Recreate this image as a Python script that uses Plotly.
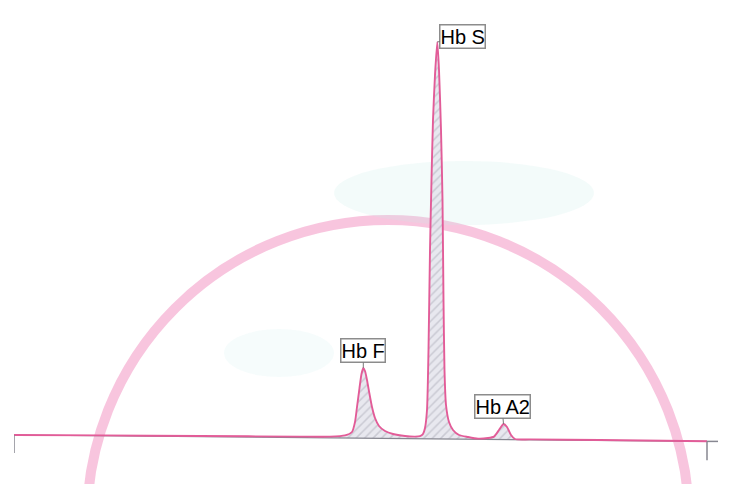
import plotly.graph_objects as go

# Retention time (min) and detector signal (relative units)
time_min = [0.00, 0.86, 1.86, 2.86, 3.16, 3.31, 3.38, 3.41, 3.43, 3.455, 3.475, 3.493,
            3.51, 3.53, 3.555, 3.58, 3.61, 3.65, 3.71, 3.79, 3.91, 4.01, 4.06, 4.09,
            4.11, 4.13, 4.145, 4.16, 4.175, 4.19, 4.21, 4.233, 4.25, 4.27, 4.285, 4.295,
            4.305, 4.32, 4.35, 4.39, 4.45, 4.54, 4.64, 4.74, 4.80, 4.85, 4.895, 4.93,
            4.97, 5.01, 5.16, 5.86, 6.93]
signal = [0.5, 0.4, 0.25, 0.1, 0.1, 0.4, 1.25, 3.75, 7.5, 12.25, 15.75, 17.25,
          16.5, 14.25, 10.75, 7.5, 4.75, 2.75, 1.5, 0.75, 0.25, 0.1, 0.2, 0.75,
          2.25, 6.75, 21.75, 46.75, 64.25, 79.25, 90.5, 98.75, 91.75, 76.75, 59.25, 34.25,
          16.75, 8.0, 3.75, 1.75, 0.5, 0.0, -0.4, -0.25, 0.1, 1.75, 3.25, 2.5,
          0.5, -0.5, -0.6, -0.75, -1.05]

# Baseline (axis) level at start and end of run
baseline_time = [0.00, 6.93]
baseline_level = [0.5, -1.1]

peak_names = ["Hb F", "Hb S", "Hb A2"]
peak_times = [3.493, 4.233, 4.895]

PINK = "rgb(226,92,152)"
GREY = "rgb(135,135,145)"

fig = go.Figure()

# gray baseline used as fill reference
fig.add_trace(go.Scatter(x=baseline_time, y=baseline_level, mode="lines",
                         line=dict(color=GREY, width=1.2), hoverinfo="skip",
                         showlegend=False))

# chromatogram trace with hatched area
fig.add_trace(go.Scatter(x=time_min, y=signal, mode="lines",
                         line=dict(color=PINK, width=1.9, shape="spline", smoothing=0.6),
                         fill="tonexty",
                         fillcolor="rgba(225,225,232,0.85)",
                         fillpattern=dict(shape="/", fgcolor="rgba(150,150,165,0.75)",
                                          bgcolor="rgba(230,230,238,0.9)", size=6, solidity=0.25),
                         showlegend=False))

# axis end ticks
t0, t1 = baseline_time[0], baseline_time[-1]
b0, b1 = baseline_level[0], baseline_level[-1]
shapes = [
    dict(type="line", xref="x", yref="y", x0=t0, x1=t0, y0=b0, y1=b0 - 4.5,
         line=dict(color=GREY, width=1.5)),
    dict(type="line", xref="x", yref="y", x0=t1, x1=t1, y0=b1, y1=b1 - 4.7,
         line=dict(color=GREY, width=1.5)),
    dict(type="line", xref="x", yref="y", x0=t1, x1=t1 + 0.11, y0=b1, y1=b1,
         line=dict(color=GREY, width=1.5)),
    # faint watermark of the paper
    dict(type="circle", xref="x", yref="y", x0=3.74 - 3.01, x1=3.74 + 3.01,
         y0=-21 - 75.25, y1=-21 + 75.25, layer="below",
         line=dict(color="rgba(242,150,195,0.55)", width=10)),
    dict(type="circle", xref="x", yref="y", x0=3.2, x1=5.8, y0=53, y1=69, layer="below",
         fillcolor="rgba(200,238,234,0.22)", line=dict(width=0)),
    dict(type="circle", xref="x", yref="y", x0=2.1, x1=3.2, y0=15, y1=27, layer="below",
         fillcolor="rgba(205,240,240,0.18)", line=dict(width=0)),
]

annotations = []
offsets = {"Hb F": (0, -17.5), "Hb S": (25.5, -5.5), "Hb A2": (-1.5, -17.5)}
for name, pt in zip(peak_names, peak_times):
    i = min(range(len(time_min)), key=lambda k: abs(time_min[k] - pt))
    ax, ay = offsets[name]
    annotations.append(dict(x=time_min[i], y=signal[i], xref="x", yref="y",
                            text=name, showarrow=True, arrowhead=0, arrowwidth=1,
                            arrowcolor="rgb(120,120,120)", ax=ax, ay=ay,
                            font=dict(family="Liberation Sans, Arial", size=20, color="black"),
                            bgcolor="white", bordercolor="rgb(140,140,140)",
                            borderwidth=1.5, borderpad=0))

# the page adds an 8 px body margin; ranges are set so the plot lands where the scan has it
fig.update_layout(
    width=733, height=484,
    margin=dict(l=6, r=0, t=0, b=0),
    paper_bgcolor="white", plot_bgcolor="white",
    xaxis=dict(range=[0, 7.27], visible=False),
    yaxis=dict(range=[-13.75, 107.25], visible=False),
    shapes=shapes, annotations=annotations,
)

fig.write_html("out.html")
